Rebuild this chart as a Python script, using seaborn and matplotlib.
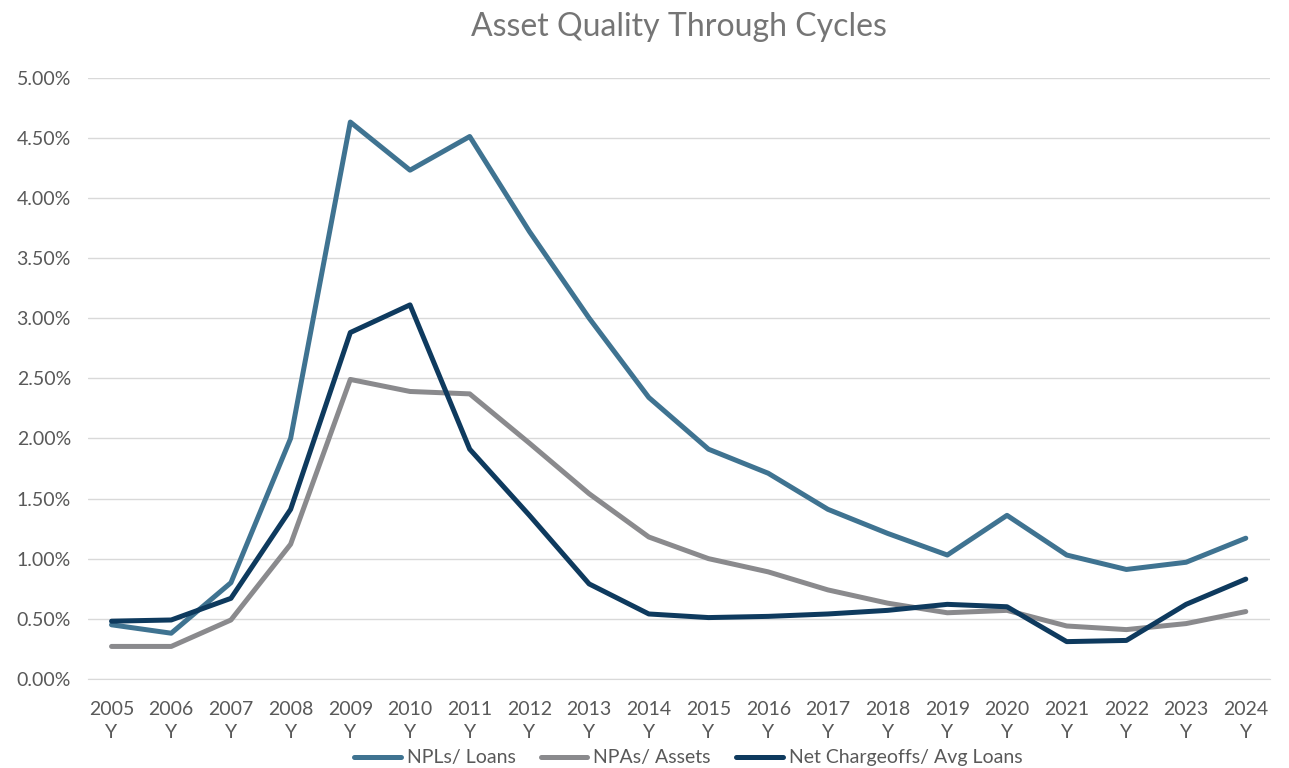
import pandas as pd
import matplotlib.pyplot as plt
import matplotlib.ticker as mtick
import seaborn as sns

# Données (en %)
years = [str(y) for y in range(2005, 2025)]
npl_loans = [0.45, 0.38, 0.80, 2.00, 4.63, 4.23, 4.51, 3.72, 3.00, 2.34,
             1.91, 1.71, 1.41, 1.21, 1.03, 1.36, 1.03, 0.91, 0.97, 1.17]
npa_assets = [0.27, 0.27, 0.49, 1.12, 2.49, 2.39, 2.37, 1.96, 1.54, 1.18,
              1.00, 0.89, 0.74, 0.63, 0.55, 0.57, 0.44, 0.41, 0.46, 0.56]
nco_loans = [0.48, 0.49, 0.67, 1.41, 2.88, 3.11, 1.91, 1.36, 0.79, 0.54,
             0.51, 0.52, 0.54, 0.57, 0.62, 0.60, 0.31, 0.32, 0.62, 0.83]

series = ["NPLs/ Loans", "NPAs/ Assets", "Net Chargeoffs/ Avg Loans"]
colors = ["#3F7391", "#8A8A8D", "#0E3A5E"]

df = pd.DataFrame({
    "year": years * 3,
    "x": list(range(len(years))) * 3,
    "value": npl_loans + npa_assets + nco_loans,
    "serie": [series[0]] * len(years) + [series[1]] * len(years) + [series[2]] * len(years),
})

sns.set_style("white")
plt.rcParams["font.family"] = ["Lato", "DejaVu Sans"]

fig = plt.figure(figsize=(12.89, 7.68), dpi=100)
ax = fig.add_axes([0.068, 0.116, 0.917, 0.783])

sns.lineplot(data=df, x="x", y="value", hue="serie", hue_order=series,
             palette=colors, linewidth=3.6, ax=ax, legend=True)

ax.set_xlim(-0.4, len(years) - 0.6)
ax.set_ylim(0, 5.0)
ax.set_yticks([i * 0.5 for i in range(11)])
ax.yaxis.set_major_formatter(mtick.FuncFormatter(lambda v, p: f"{v:.2f}%"))
ax.set_xticks(range(len(years)))
ax.set_xticklabels([f"{y}\nY" for y in years], linespacing=1.45)
ax.tick_params(axis="both", length=0, labelsize=14, colors="#595959")
ax.tick_params(axis="x", pad=16)
ax.tick_params(axis="y", pad=12)
ax.grid(axis="y", color="#D9D9D9", linewidth=1)
for s in ["top", "right", "left"]:
    ax.spines[s].set_visible(False)
ax.spines["bottom"].set_color("#D9D9D9")
ax.set_xlabel("")
ax.set_ylabel("")

# titre centré sur la zone de tracé
ax.set_title("Asset Quality Through Cycles", y=1.055, fontsize=23, color="#757575")

handles, labels = ax.get_legend_handles_labels()
ax.legend(handles, labels, loc="lower center", bbox_to_anchor=(0.508, -0.165),
          ncol=3, frameon=False, fontsize=14, handlelength=2.4,
          columnspacing=1.3, handletextpad=0.3, labelcolor="#595959",
          borderpad=0.1)

fig.savefig("out.png", dpi=100)
